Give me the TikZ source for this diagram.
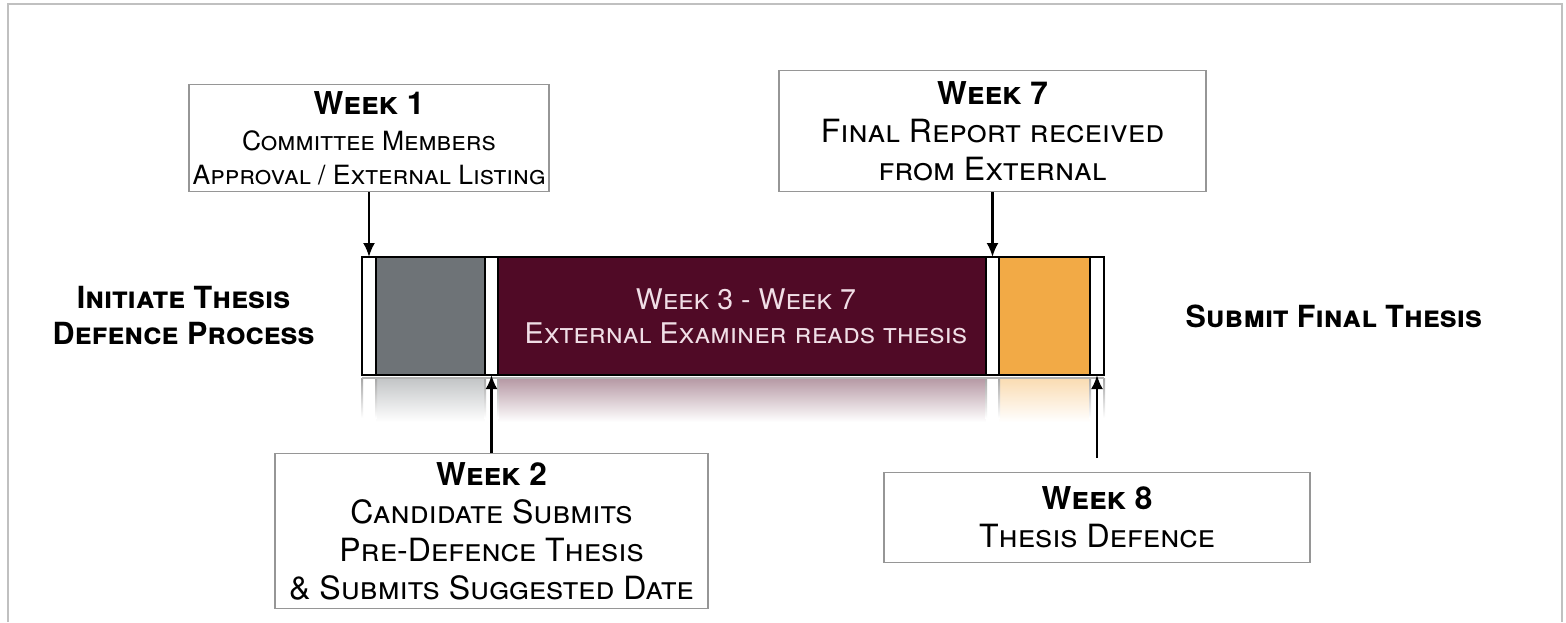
\documentclass[tikz,border=0pt]{standalone}
\usepackage{fontspec}
\setmainfont{TeX Gyre Heros}
\usetikzlibrary{positioning,arrows.meta}

\definecolor{barGray}{RGB}{110,115,119}
\definecolor{barMaroon}{RGB}{80,10,38}
\definecolor{barOrange}{RGB}{242,170,70}
\definecolor{frameGray}{RGB}{192,192,192}
\definecolor{boxGray}{RGB}{150,150,150}
\definecolor{barText}{RGB}{240,222,230}

\newcommand{\wkhead}[1]{{\fontsize{31.5}{38}\selectfont\bfseries #1}}

\begin{document}
\begin{tikzpicture}[
      x=1pt, y=-1pt,
      seg/.style = {draw=black, line width=2pt, minimum height=118pt,
                    inner sep=0pt, outer sep=0pt, anchor=north west},
      wkbox/.style = {draw=boxGray, line width=1.3pt, align=center,
                      inner sep=0pt, font=\fontsize{#1}{38}\selectfont\scshape},
      wkbox/.default = 32,
      side/.style = {align=center, font=\fontsize{30.5}{36}\selectfont\bfseries\scshape},
      arr/.style = {->, line width=2.4pt},
      >={Latex[length=14pt, width=12pt]}
    ]
    \useasboundingbox (0,0) rectangle (1566,622);
    \draw[frameGray, line width=1.5pt] (8,622) -- (8,4) -- (1562,4) -- (1562,622);

    % the bar and its reflection
    \foreach \name/\xa/\segw/\col in {s1/362/14/white, s2/376/109/barGray,
        s3/485/13/white, s4/498/488/barMaroon, s5/986/13/white,
        s6/999/91/barOrange, s7/1090/14/white}{
      \shade[top color=\col!42!white, bottom color=white] (\xa,378) rectangle ++(\segw,44);
      \shade[top color=black!35, bottom color=white] (\xa-1,378) rectangle ++(2,40);
      \node[seg, fill=\col, minimum width=\segw pt] (\name) at (\xa,257) {};
    }
    \shade[top color=black!35, bottom color=white] (1103,378) rectangle ++(2,40);
    \draw[black!30, line width=2pt] ([yshift=-3pt]s1.south west) -- ([yshift=-3pt]s7.south east);

    \node[align=center, text=barText, font=\fontsize{28.5}{34}\selectfont\scshape]
      (mid) at ([xshift=4pt]s4.center) {Week 3 - Week 7\\External Examiner reads thesis};

    \node[side, left=44pt of s1] (start) {Initiate Thesis\\Defence Process};
    \node[side, right=78pt of s7] (finish) {Submit Final Thesis};

    % week boxes
    \node[wkbox=26.5, minimum width=360pt, minimum height=107pt, above=65pt of s1] (wk1)
      {\wkhead{Week 1}\\[-2pt]Committee Members\\[-4pt]Approval / External Listing};
    \node[wkbox, minimum width=427pt, minimum height=121pt, above=65pt of s5] (wk7)
      {\wkhead{Week 7}\\Final Report received\\from External};
    \node[wkbox, minimum width=433pt, minimum height=155pt, below=78pt of s3] (wk2)
      {\wkhead{Week 2}\\Candidate Submits\\Pre-Defence Thesis\\\& Submits Suggested Date};
    \node[wkbox, minimum width=426pt, minimum height=90pt, below=97pt of s7] (wk8)
      {\wkhead{Week 8}\\Thesis Defence};
    \coordinate (wk8tail) at ([yshift=14pt]wk8.north);

    \draw[arr] (wk1.south) -- (s1.north);
    \draw[arr] (wk7.south) -- (s5.north);
    \draw[arr] (wk2.north) -- (s3.south);
    \draw[arr] (wk8tail) -- (s7.south);
\end{tikzpicture}
\end{document}
